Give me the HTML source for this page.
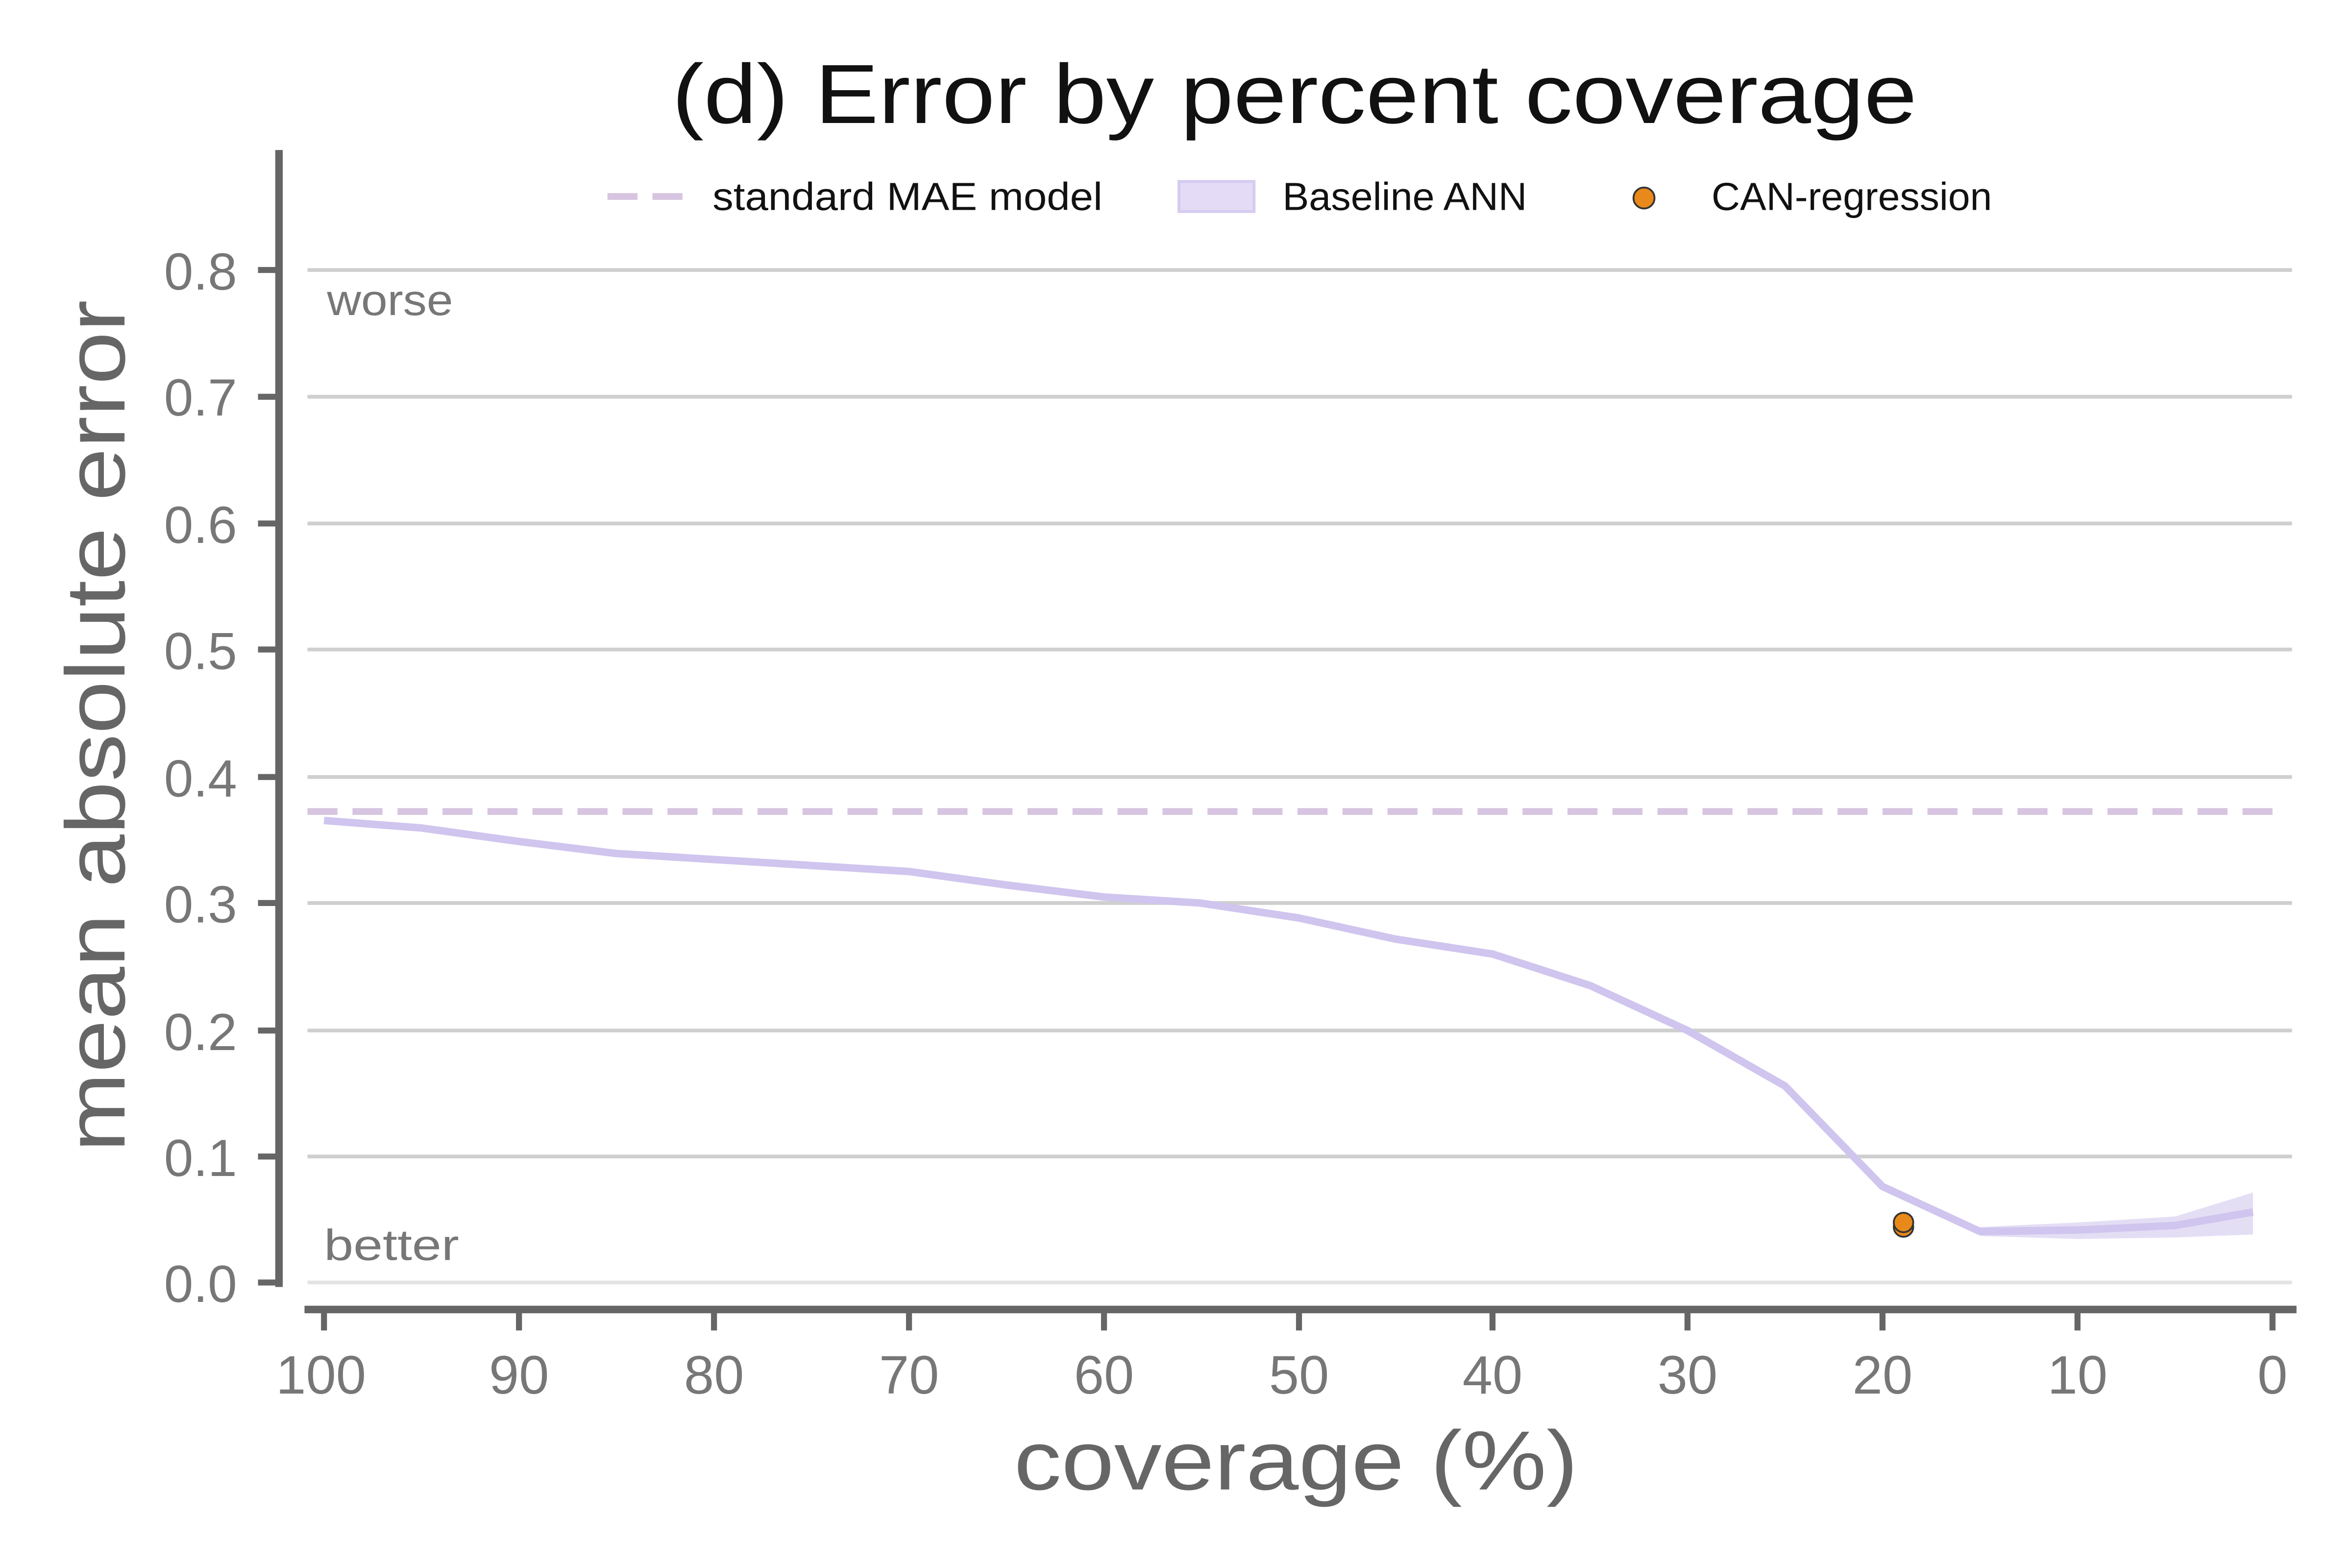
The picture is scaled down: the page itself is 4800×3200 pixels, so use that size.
<!DOCTYPE html>
<html><head><meta charset="utf-8"><style>html,body{margin:0;padding:0;background:#fff}svg{display:block}</style></head>
<body>
<svg width="4800" height="3200" viewBox="0 0 1568 1045.33" xmlns="http://www.w3.org/2000/svg" font-family="Liberation Sans, sans-serif">
<rect width="1568" height="1046" fill="#fff"/>
<text x="448" y="82" font-size="56" fill="#111" textLength="830" lengthAdjust="spacingAndGlyphs">(d) Error by percent coverage</text>
<!-- grid -->
<g stroke="#cfcfcf" stroke-width="2.5">
<line x1="205" x2="1528" y1="180" y2="180"/>
<line x1="205" x2="1528" y1="264.5" y2="264.5"/>
<line x1="205" x2="1528" y1="349" y2="349"/>
<line x1="205" x2="1528" y1="433" y2="433"/>
<line x1="205" x2="1528" y1="518" y2="518"/>
<line x1="205" x2="1528" y1="602" y2="602"/>
<line x1="205" x2="1528" y1="687" y2="687"/>
<line x1="205" x2="1528" y1="771" y2="771"/>
<line x1="205" x2="1528" y1="855" y2="855" stroke="#e3e3e3"/>
</g>
<!-- axes -->
<g stroke="#666" stroke-width="5">
<line x1="186" y1="100" x2="186" y2="858"/>
<line x1="203" y1="873" x2="1531" y2="873"/>
</g>
<g stroke="#666" stroke-width="4">
<line x1="172" x2="186" y1="180" y2="180"/><line x1="172" x2="186" y1="264.5" y2="264.5"/>
<line x1="172" x2="186" y1="349" y2="349"/><line x1="172" x2="186" y1="433" y2="433"/>
<line x1="172" x2="186" y1="518" y2="518"/><line x1="172" x2="186" y1="602" y2="602"/>
<line x1="172" x2="186" y1="687" y2="687"/><line x1="172" x2="186" y1="771" y2="771"/>
<line x1="172" x2="186" y1="855" y2="855"/>
<line y1="873" y2="887" x1="216" x2="216"/><line y1="873" y2="887" x1="346" x2="346"/>
<line y1="873" y2="887" x1="476" x2="476"/><line y1="873" y2="887" x1="606" x2="606"/>
<line y1="873" y2="887" x1="736" x2="736"/><line y1="873" y2="887" x1="866" x2="866"/>
<line y1="873" y2="887" x1="995" x2="995"/><line y1="873" y2="887" x1="1125" x2="1125"/>
<line y1="873" y2="887" x1="1255" x2="1255"/><line y1="873" y2="887" x1="1385" x2="1385"/>
<line y1="873" y2="887" x1="1515" x2="1515"/>
</g>
<g font-size="35" fill="#777" text-anchor="end">
<text x="158" y="193">0.8</text><text x="158" y="277">0.7</text><text x="158" y="362">0.6</text>
<text x="158" y="446">0.5</text><text x="158" y="531">0.4</text><text x="158" y="615">0.3</text>
<text x="158" y="700">0.2</text><text x="158" y="784">0.1</text><text x="158" y="868">0.0</text>
</g>
<g font-size="36" fill="#777" text-anchor="middle">
<text x="214" y="929">100</text><text x="346" y="929">90</text><text x="476" y="929">80</text>
<text x="606" y="929">70</text><text x="736" y="929">60</text><text x="866" y="929">50</text>
<text x="995" y="929">40</text><text x="1125" y="929">30</text><text x="1255" y="929">20</text>
<text x="1385" y="929">10</text><text x="1515" y="929">0</text>
</g>
<text x="676" y="993" font-size="56" fill="#666" textLength="376" lengthAdjust="spacingAndGlyphs">coverage (%)</text>
<text transform="translate(83,768) rotate(-90)" font-size="56" fill="#666" textLength="568" lengthAdjust="spacingAndGlyphs">mean absolute error</text>
<text x="218" y="210" font-size="29" fill="#777" textLength="84" lengthAdjust="spacingAndGlyphs">worse</text>
<text x="216" y="840" font-size="29" fill="#777" textLength="90" lengthAdjust="spacingAndGlyphs">better</text>
<!-- dashed -->
<line x1="205" x2="1525" y1="541" y2="541" stroke="#d6c4e0" stroke-width="4.5" stroke-dasharray="20 10"/>
<!-- band -->
<polygon points="1320,818 1385,815 1450,811 1502,795 1502,823 1450,825 1385,826 1320,824" fill="#ddd6f3" opacity="0.8"/>
<polyline fill="none" stroke="#cfc5ee" stroke-width="5" stroke-linejoin="round" points="216,547 281,552 346,561 411,569 476,573 541,577 606,581 671,590 736,598 800,602 866,612 930,626 995,636 1060,657 1125,687 1190,724 1255,791 1320,821 1385,820 1450,817 1502,808"/>
<circle cx="1269" cy="818" r="6.5" fill="#e8891a" stroke="#333" stroke-width="1.2"/>
<circle cx="1269" cy="815" r="6.5" fill="#e8891a" stroke="#333" stroke-width="1.2"/>
<!-- legend -->
<line x1="405" x2="455" y1="131" y2="131" stroke="#d6c4e0" stroke-width="4.5" stroke-dasharray="20 10"/>
<text x="475" y="140" font-size="26" fill="#111" textLength="260" lengthAdjust="spacingAndGlyphs">standard MAE model</text>
<rect x="786" y="121" width="50" height="20" fill="#e4dcf6" stroke="#d6ccf0" stroke-width="2"/>
<text x="855" y="140" font-size="26" fill="#111" textLength="163" lengthAdjust="spacingAndGlyphs">Baseline ANN</text>
<circle cx="1096" cy="132" r="7" fill="#e8891a" stroke="#333" stroke-width="1.2"/>
<text x="1141" y="140" font-size="26" fill="#111" textLength="187" lengthAdjust="spacingAndGlyphs">CAN-regression</text>
</svg>
</body></html>
